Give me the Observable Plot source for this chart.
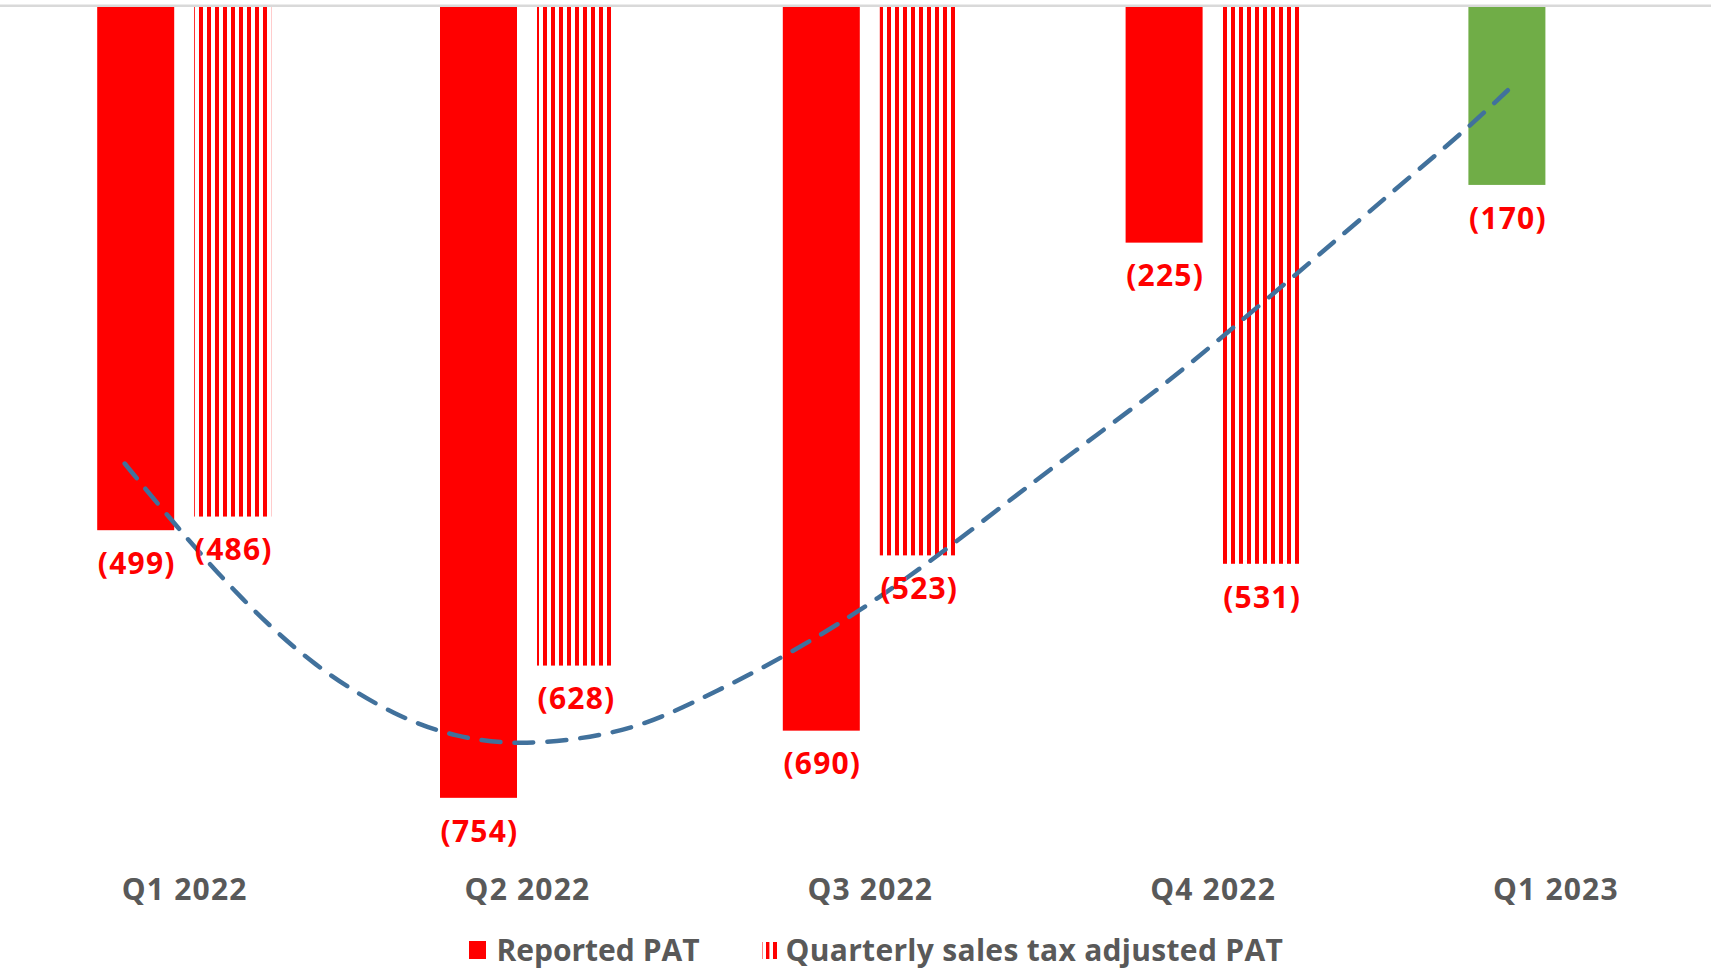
<!DOCTYPE html>
<html>
<head>
<meta charset="utf-8">
<script src="https://cdn.jsdelivr.net/npm/d3@7"></script>
<script src="https://cdn.jsdelivr.net/npm/@observablehq/plot@0.6"></script>
<style>
  html, body { margin: 0; padding: 0; background: #fff; }
  body { width: 1711px; height: 970px; overflow: hidden; position: relative; font-family: "Open Sans", sans-serif; }
  #chart { position: absolute; left: 0; top: 0; }
  #legend { position: absolute; left: 469px; top: 935px; display: flex; align-items: center;
            font-weight: 700; font-size: 30px; line-height: 30px; color: #595959; white-space: nowrap; }
  .sw { display: inline-block; }
</style>
</head>
<body>
<div id="chart"></div>
<div id="legend">
  <span class="sw" style="width:17.4px;height:17.4px;background:#ff0000;margin-right:10px;"></span>
  <span>Reported PAT</span>
  <svg class="sw" width="15" height="17" style="margin-left:62px;margin-right:9px;">
    <rect x="0" y="0" width="0.8" height="17" fill="#ff0000" opacity="0.6"></rect>
    <rect x="4" y="0" width="3.4" height="17" fill="#ff0000"></rect>
    <rect x="11" y="0" width="4" height="17" fill="#ff0000"></rect>
  </svg>
  <span style="letter-spacing:0.3px;">Quarterly sales tax adjusted PAT</span>
</div>
<script>
// ---- data ----
const quarters = ["Q1 2022", "Q2 2022", "Q3 2022", "Q4 2022", "Q1 2023"];
const reportedPAT = [-499, -754, -690, -225, -170];
const adjustedPAT = [-486, -628, -523, -531];           // no adjusted bar for Q1 2023
// dashed trend line, sampled along the drawn curve (position in quarter units, value)
const trendPos = [-0.175, -0.022, 0.163, 0.377, 0.620, 0.795, 0.960, 1.155, 1.339, 1.514, 1.680, 1.864,
                  2.020, 2.185, 2.399, 2.564, 2.788, 2.934, 3.158, 3.381, 3.595, 3.741, 3.877];
const trendVal = [-435, -496, -564, -629, -677, -696, -703, -698, -685, -658, -631, -597,
                  -564, -526, -472, -431, -377, -340, -278, -216, -156, -116, -74];

// ---- tables built from the arrays ----
const reported = quarters.map((q, i) => ({quarter: q, i, value: reportedPAT[i]}));
const adjusted = adjustedPAT.map((v, i) => ({quarter: quarters[i], i, value: v}));
const trend = trendPos.map((p, k) => ({pos: p, value: trendVal[k]}));

const RED = "#ff0000", GREEN = "#70ad47", GREY = "#595959", TREND = "#41719c";
const fmt = v => `(${Math.abs(v)})`;
const font = '"Open Sans", sans-serif';

const chart = Plot.plot({
  width: 1711,
  height: 915,
  marginLeft: 0, marginRight: 0, marginTop: 0, marginBottom: 65,
  x: {domain: [-0.5, 4.5], range: [12.8, 1726.8]},
  y: {domain: [0, -800], range: [6.5, 846.1], axis: null},
  style: {fontFamily: font, fontSize: "30px", fontWeight: 700, letterSpacing: "1.2px", background: "white", overflow: "visible"},
  marks: [
    Plot.rectY(reported, {
      x1: d => d.i - 0.5, x2: d => d.i + 0.5, y1: 0, y2: "value",
      insetLeft: 84.4, insetRight: 181.4,
      fill: d => d.quarter === "Q1 2023" ? GREEN : RED
    }),
    Plot.rectY(adjusted, {
      x1: d => d.i - 0.5, x2: d => d.i + 0.5, y1: 0, y2: "value",
      insetLeft: 181.4, insetRight: 84.4,
      fill: "url(#stripes)"
    }),
    Plot.ruleY([0], {stroke: "#d9d9d9", strokeWidth: 2.4, dy: -1.2}),
    Plot.line(trend, {
      x: "pos", y: "value", curve: "basis",
      stroke: TREND, strokeWidth: 4.5, strokeDasharray: "19 14"
    }),
    Plot.text(reported, {
      x: "i", y: "value", text: d => fmt(d.value), dx: -48, dy: 22,
      lineAnchor: "top", fill: RED, fontSize: 30, fontWeight: 700
    }),
    Plot.text(adjusted, {
      x: "i", y: "value", text: d => fmt(d.value), dx: 49, dy: 22,
      lineAnchor: "top", fill: RED, fontSize: 30, fontWeight: 700
    }),
    Plot.axisX({
      ticks: [0, 1, 2, 3, 4], tickFormat: i => quarters[i],
      tickSize: 0, tickPadding: 28, fontSize: 30, fontWeight: 700, color: GREY, label: null
    })
  ]
});

// vertical-stripe pattern for the adjusted series
const defs = d3.select(chart).insert("defs", ":first-child");
const pat = defs.append("pattern")
  .attr("id", "stripes").attr("patternUnits", "userSpaceOnUse")
  .attr("x", 7).attr("y", 0).attr("width", 8).attr("height", 10);
pat.append("rect").attr("x", 0).attr("y", 0).attr("width", 4).attr("height", 10).attr("fill", RED);

document.getElementById("chart").appendChild(chart);
</script>
</body>
</html>
